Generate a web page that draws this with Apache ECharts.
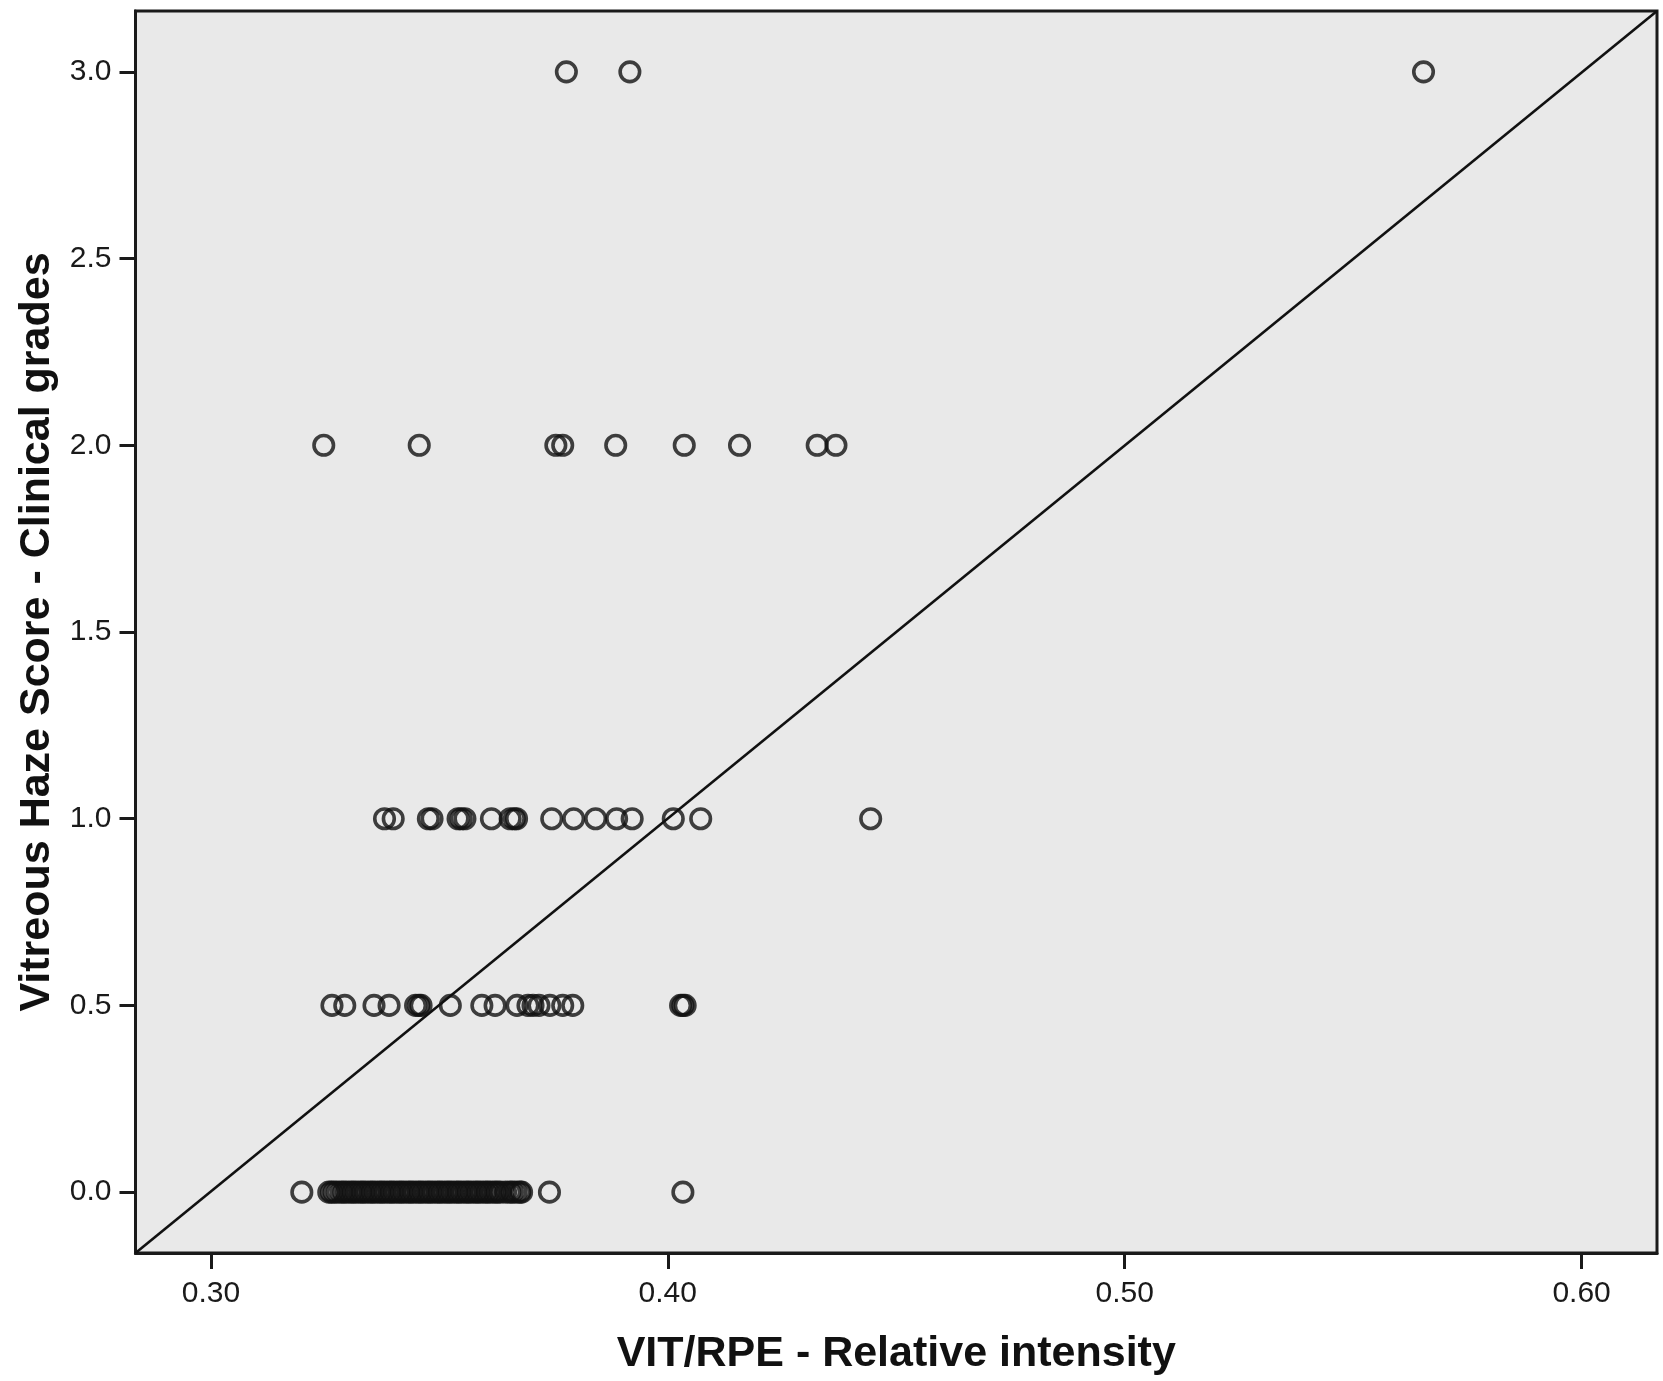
<!DOCTYPE html>
<html>
<head>
<meta charset="utf-8">
<script src="https://cdn.jsdelivr.net/npm/echarts@6/dist/echarts.min.js"></script>
<style>
html,body{margin:0;padding:0;background:#fff;}
#chart{width:1663px;height:1381px;}
</style>
</head>
<body>
<div id="chart"></div>
<script>
// Vitreous haze grade levels and the VIT/RPE values observed at each grade
const gradeLevels = [0, 0.5, 1.0, 2.0, 3.0];
const xAtGrade0 = [0.3199, 0.3258, 0.3264, 0.3270, 0.3277, 0.3285, 0.3291, 0.3298, 0.3306, 0.3312, 0.3319,
  0.3327, 0.3333, 0.3340, 0.3348, 0.3354, 0.3361, 0.3369, 0.3375, 0.3382, 0.3390, 0.3396, 0.3403,
  0.3411, 0.3417, 0.3424, 0.3432, 0.3438, 0.3445, 0.3453, 0.3459, 0.3466, 0.3474, 0.3480, 0.3487,
  0.3495, 0.3501, 0.3508, 0.3516, 0.3522, 0.3529, 0.3537, 0.3543, 0.3550, 0.3558, 0.3564, 0.3571,
  0.3579, 0.3585, 0.3592, 0.3600, 0.3606, 0.3613, 0.3621, 0.3627, 0.3634, 0.3645, 0.3654, 0.3660,
  0.3668, 0.3676, 0.3680, 0.3741, 0.4033];
const xAtGrade05 = [0.3265, 0.3293, 0.3357, 0.3390, 0.3448, 0.3455, 0.3460, 0.3524, 0.3593, 0.3622,
  0.3670, 0.3694, 0.3705, 0.3718, 0.3742, 0.3770, 0.3792, 0.4028, 0.4033, 0.4038];
const xAtGrade1 = [0.3380, 0.3399, 0.3476, 0.3484, 0.3541, 0.3548, 0.3556, 0.3614, 0.3655, 0.3664,
  0.3669, 0.3746, 0.3794, 0.3842, 0.3888, 0.3922, 0.4012, 0.4072, 0.4444];
const xAtGrade2 = [0.3247, 0.3456, 0.3755, 0.3770, 0.3886, 0.4036, 0.4157, 0.4327, 0.4368];
const xAtGrade3 = [0.3778, 0.3917, 0.5654];

// axis ticks
const xTicks = [0.30, 0.40, 0.50, 0.60];
const yTicks = [0.0, 0.5, 1.0, 1.5, 2.0, 2.5, 3.0];
const xRange = [0.2835, 0.6165];
const yRange = [-0.163, 3.163];

const xTitle = 'VIT/RPE - Relative intensity';
const yTitle = 'Vitreous Haze Score - Clinical grades';

const groups = [xAtGrade0, xAtGrade05, xAtGrade1, xAtGrade2, xAtGrade3];
const points = [];
groups.forEach((xs, i) => xs.forEach(x => points.push([x, gradeLevels[i]])));

const ink = '#1a1a1a';
const font = "'Liberation Sans', Arial, sans-serif";

const chart = echarts.init(document.getElementById('chart'));
chart.setOption({
  backgroundColor: '#ffffff',
  animation: false,
  grid: {
    left: 135.5, right: 6, top: 11, bottom: 127,
    show: true, backgroundColor: '#e9e9e9', borderColor: ink, borderWidth: 3
  },
  xAxis: {
    type: 'value', min: xRange[0], max: xRange[1],
    name: xTitle, nameLocation: 'middle', nameGap: 80,
    nameTextStyle: { fontFamily: font, fontWeight: 'bold', fontSize: 43, color: '#111' },
    axisLine: { show: true, onZero: false, lineStyle: { color: ink, width: 3 } },
    axisTick: { show: true, length: 16, lineStyle: { color: ink, width: 3 }, customValues: xTicks },
    axisLabel: { fontFamily: font, fontSize: 30, color: ink, margin: 26,
      customValues: xTicks, formatter: v => v.toFixed(2) },
    splitLine: { show: false }
  },
  yAxis: {
    type: 'value', min: yRange[0], max: yRange[1],
    name: yTitle, nameLocation: 'middle', nameGap: 72, nameRotate: 90,
    nameTextStyle: { fontFamily: font, fontWeight: 'bold', fontSize: 43, color: '#111' },
    axisLine: { show: true, onZero: false, lineStyle: { color: ink, width: 3 } },
    axisTick: { show: true, length: 16, lineStyle: { color: ink, width: 3 }, customValues: yTicks },
    axisLabel: { fontFamily: font, fontSize: 30, color: ink, margin: 24,
      customValues: yTicks, formatter: v => v.toFixed(1) },
    splitLine: { show: false }
  },
  series: [
    {
      type: 'line',
      data: [[xRange[0], yRange[0]], [xRange[1], yRange[1]]],
      showSymbol: false, symbol: 'none',
      lineStyle: { color: '#111', width: 2.6 },
      silent: true, z: 1
    },
    {
      type: 'scatter',
      data: points,
      symbol: 'circle', symbolSize: 19.5,
      itemStyle: { color: 'rgba(0,0,0,0)', borderColor: '#111', borderWidth: 3.6 },
      z: 2
    }
  ]
});
</script>
</body>
</html>
